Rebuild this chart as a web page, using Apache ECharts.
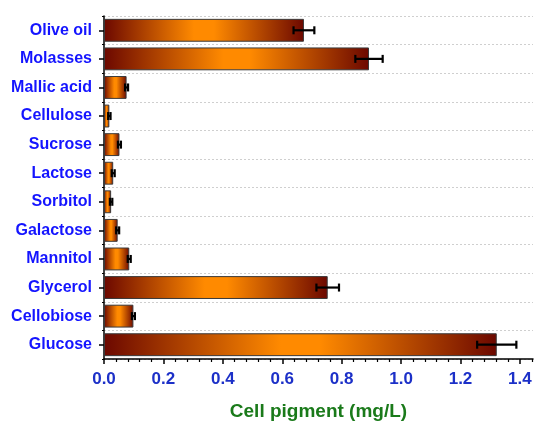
<!DOCTYPE html>
<html>
<head>
<meta charset="utf-8">
<script src="https://cdn.jsdelivr.net/npm/echarts@6/dist/echarts.min.js"></script>
<style>html,body{margin:0;padding:0;background:#fff}#c{width:535px;height:422px}</style>
</head>
<body>
<div id="c"></div>
<script>
const categories = ["Olive oil","Molasses","Mallic acid","Cellulose","Sucrose","Lactose","Sorbitol","Galactose","Mannitol","Glycerol","Cellobiose","Glucose"];
const values = [0.673,0.892,0.076,0.018,0.052,0.031,0.024,0.046,0.085,0.753,0.099,1.322];
const errors = [0.035,0.046,0.005,0.004,0.005,0.005,0.004,0.005,0.005,0.038,0.005,0.066];
const majorTicks = [0,0.2,0.4,0.6,0.8,1.0,1.2,1.4];
const minorTicks = [];
for (let i = 0; i < majorTicks.length - 1; i++) {
  for (let k = 1; k < 5; k++) minorTicks.push(+(majorTicks[i] + k * 0.04).toFixed(3));
}
minorTicks.push(1.44);

const FONT = '"Liberation Sans", Arial, sans-serif';
const chart = echarts.init(document.getElementById('c'));
const grad = new echarts.graphic.LinearGradient(0,0,1,0,[
  {offset:0,color:'#6c0800'},
  {offset:0.45,color:'#ff8a00'},
  {offset:0.55,color:'#ff8a00'},
  {offset:1,color:'#6c0800'}
]);
chart.setOption({
  animation:false,
  grid:{left:104,right:2,top:16,bottom:63,containLabel:false,outerBoundsMode:'none'},
  xAxis:[{
    type:'value',min:0,max:1.444,
    axisLine:{show:true,lineStyle:{color:'#000',width:1.5}},
    axisTick:{show:true,length:5,inside:false,customValues:majorTicks,lineStyle:{color:'#000',width:1.5}},
    axisLabel:{customValues:majorTicks,formatter:v=>v.toFixed(1),color:'#1c30c8',fontSize:17,fontWeight:'bold',fontFamily:FONT,margin:12},
    splitLine:{show:false},
    name:'Cell pigment (mg/L)',nameLocation:'middle',nameGap:43,
    nameTextStyle:{color:'#1a7a1a',fontSize:19,fontWeight:'bold',fontFamily:FONT}
  },{
    type:'value',min:0,max:1.444,position:'bottom',
    axisLine:{show:false},
    axisTick:{show:true,length:3,customValues:minorTicks,lineStyle:{color:'#000',width:1.2}},
    axisLabel:{show:false},splitLine:{show:false}
  }],
  yAxis:[{
    type:'category',data:categories,inverse:true,
    axisLine:{show:true,lineStyle:{color:'#000',width:1.5}},
    axisTick:{show:true,alignWithLabel:true,length:5,lineStyle:{color:'#000',width:1.5}},
    axisLabel:{color:'#1414ff',fontSize:16,fontWeight:'bold',fontFamily:FONT,margin:12},
    splitLine:{show:true,lineStyle:{color:'#cfcfcf',type:[2,2],width:1}}
  },{
    type:'category',data:categories,inverse:true,position:'left',
    axisLine:{show:false},
    axisTick:{show:true,length:2,lineStyle:{color:'#000',width:1.2}},
    axisLabel:{show:false},splitLine:{show:false}
  }],
  series:[{
    type:'bar',data:values,barWidth:'80%',
    itemStyle:{color:grad,borderColor:'#3a3a3a',borderWidth:1}
  },{
    type:'custom',
    data:values.map((v,i)=>[i,v,errors[i]]),
    renderItem:function(params,api){
      const i=api.value(0),v=api.value(1),e=api.value(2);
      const a=api.coord([v-e,i]),b=api.coord([v+e,i]);
      const h=4;
      const st={stroke:'#000',lineWidth:2.2};
      return {type:'group',children:[
        {type:'line',shape:{x1:a[0],y1:a[1],x2:b[0],y2:b[1]},style:st},
        {type:'line',shape:{x1:a[0],y1:a[1]-h,x2:a[0],y2:a[1]+h},style:st},
        {type:'line',shape:{x1:b[0],y1:b[1]-h,x2:b[0],y2:b[1]+h},style:st}
      ]};
    },
    encode:{x:1,y:0},z:10
  }]
});
</script>
</body>
</html>
